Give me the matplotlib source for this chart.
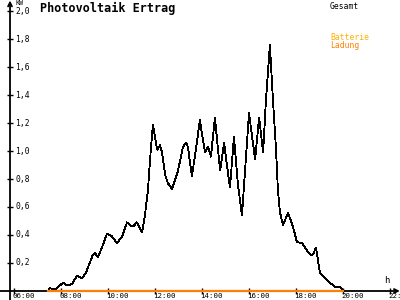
import matplotlib
matplotlib.use("Agg")
import matplotlib.pyplot as plt

# ---- data ----
hours = [7.45, 7.53, 7.74, 7.96, 8.09, 8.26, 8.47, 8.68, 8.89, 9.06, 9.36, 9.45, 9.57,
         9.74, 9.96, 10.17, 10.38, 10.60, 10.81, 10.94, 11.06, 11.23, 11.45, 11.57, 11.70,
         11.79, 11.91, 12.09, 12.21, 12.30, 12.43, 12.55, 12.72, 12.85, 12.98, 13.19, 13.32,
         13.40, 13.57, 13.74, 13.91, 14.04, 14.13, 14.26, 14.38, 14.55, 14.68, 14.77, 14.94,
         15.06, 15.19, 15.36, 15.53, 15.70, 16.00, 16.26, 16.43, 16.60, 16.72, 16.89, 17.02,
         17.15, 17.23, 17.32, 17.45, 17.66, 17.87, 18.04, 18.26, 18.38, 18.60, 18.72, 18.85,
         19.02, 19.36, 19.66, 19.87, 20.00, 20.04]
gesamt = [0.00, 0.02, 0.01, 0.04, 0.06, 0.04, 0.05, 0.11, 0.09, 0.13, 0.26, 0.27, 0.24,
          0.31, 0.41, 0.39, 0.34, 0.39, 0.49, 0.47, 0.46, 0.49, 0.42, 0.54, 0.72,
          0.94, 1.19, 1.01, 1.04, 0.99, 0.83, 0.77, 0.73, 0.79, 0.86, 1.03, 1.06,
          1.03, 0.82, 1.01, 1.22, 1.08, 0.99, 1.03, 0.96, 1.24, 1.01, 0.86, 1.06,
          0.90, 0.74, 1.10, 0.76, 0.54, 1.27, 0.94, 1.24, 0.99, 1.36, 1.76, 1.36,
          1.01, 0.72, 0.56, 0.47, 0.56, 0.46, 0.35, 0.34, 0.31, 0.26, 0.26, 0.31,
          0.13, 0.07, 0.03, 0.03, 0.01, 0.00]
ladung_hours = [7.45, 20.00]
ladung = [0.00, 0.00]

x_ticks = [6, 8, 10, 12, 14, 16, 18, 20, 22]
x_labels = ["06:00", "08:00", "10:00", "12:00", "14:00", "16:00", "18:00", "20:00", "22:00"]
y_ticks = [0.2, 0.4, 0.6, 0.8, 1.0, 1.2, 1.4, 1.6, 1.8, 2.0]
y_labels = ["0,2", "0,4", "0,6", "0,8", "1,0", "1,2", "1,4", "1,6", "1,8", "2,0"]

title = "Photovoltaik Ertrag"
legend_names = ["Gesamt", "Batterie", "Ladung"]
legend_colors = ["#000000", "#FFB000", "#FF7F00"]

# ---- figure ----
mono = "DejaVu Sans Mono"
fig = plt.figure(figsize=(4, 3), dpi=100, facecolor="white")
ax = fig.add_axes([0, 0, 1, 1])
ax.set_xlim(5.404, 22.426)
ax.set_ylim(-0.0643, 2.0786)
ax.axis("off")

yaxis_x = 5.83

# axes lines with arrows
ax.annotate("", xy=(22.42, 0), xytext=(5.40, 0),
            arrowprops=dict(arrowstyle="->", lw=1.3, color="black",
                            shrinkA=0, shrinkB=0, mutation_scale=7))
ax.annotate("", xy=(yaxis_x, 2.075), xytext=(yaxis_x, -0.064),
            arrowprops=dict(arrowstyle="->", lw=1.3, color="black",
                            shrinkA=0, shrinkB=0, mutation_scale=7))

# ticks
ax.plot(x_ticks, [0] * len(x_ticks), linestyle="none", marker="|",
        markersize=4.5, markeredgewidth=1.0, color="black")
ax.plot([yaxis_x] * len(y_ticks), y_ticks, linestyle="none", marker="_",
        markersize=4.5, markeredgewidth=1.0, color="black")

# series
ax.plot(hours, gesamt, color="black", lw=0.6, antialiased=False, zorder=3)
ax.plot(ladung_hours, ladung, color=legend_colors[2], lw=1.6, zorder=4)

# tick labels
for t, lab in zip(x_ticks, x_labels):
    ax.annotate(lab, xy=(t, 0), xytext=(-2, -2), textcoords="offset pixels",
                ha="left", va="top", fontsize=5.4, family=mono, annotation_clip=False)
for t, lab in zip(y_ticks, y_labels):
    ax.annotate(lab, xy=(yaxis_x, t), xytext=(5, 0), textcoords="offset pixels",
                ha="left", va="center", fontsize=5.8, family=mono)
ax.annotate("KW", xy=(yaxis_x, 2.0), xytext=(5, 5), textcoords="offset pixels",
            ha="left", va="bottom", fontsize=4.8, family=mono)
ax.annotate("h", xy=(21.87, 0), xytext=(0, 6), textcoords="offset pixels",
            ha="center", va="bottom", fontsize=6.5, family=mono)

# title and legend
fig.text(40 / 400, 1 - 2 / 300, title, ha="left", va="top",
         fontsize=8.5, fontweight="bold", family=mono)
legend_y = [2, 33, 41]
for name, col, yy in zip(legend_names, legend_colors, legend_y):
    fig.text(330 / 400, 1 - yy / 300, name, ha="left", va="top",
             fontsize=5.8, family=mono, color=col)

fig.savefig("out.png", dpi=100, facecolor="white")
